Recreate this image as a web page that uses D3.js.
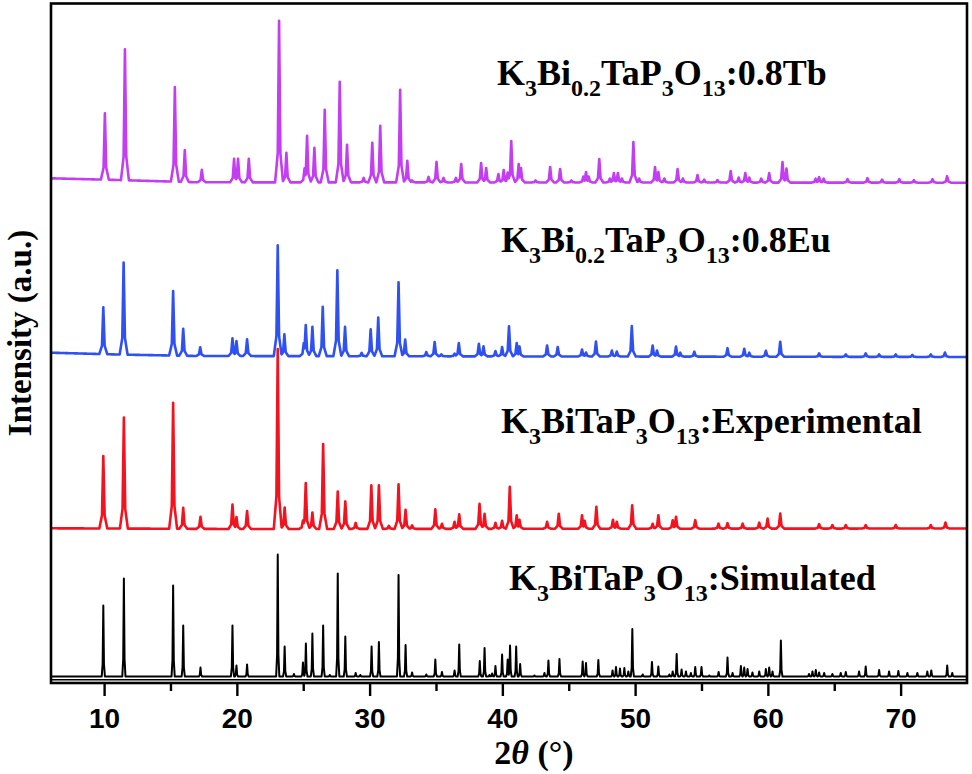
<!DOCTYPE html>
<html><head><meta charset="utf-8">
<script src="https://cdn.jsdelivr.net/npm/d3@7"></script>
<style>
html,body{margin:0;padding:0;background:#fff;}
svg{display:block;}
</style></head>
<body>
<script>
// ---------- DATA (2θ in degrees, intensity in a.u. on a shared stacked scale) ----------
const xTicksMajor = [10, 20, 30, 40, 50, 60, 70];
const xTicksMinor = [15, 25, 35, 45, 55, 65];

const seriesNames = [
  "K_{3}Bi_{0.2}TaP_{3}O_{13}:0.8Tb",
  "K_{3}Bi_{0.2}TaP_{3}O_{13}:0.8Eu",
  "K_{3}BiTaP_{3}O_{13}:Experimental",
  "K_{3}BiTaP_{3}O_{13}:Simulated"
];
const seriesColors = ["#c33df2", "#2f50f2", "#f5121f", "#000000"];

// baselines (2θ, intensity offset)
const baseTb  = [[6, 504.7], [11, 503], [17, 500.7], [75, 500.3]];
const baseEu  = [[6, 330.3], [11, 328.5], [17, 327], [75, 326]];
const baseExp = [[6, 154.7], [20, 154], [75, 154.5]];
const baseSim = [[6, 6.5], [75, 6.5]];

// peaks (2θ, height above baseline)
const peaksTb = [
  [10.06,66.5],[11.57,131],[15.33,94.5],[16.08,32],[17.36,12.5],[19.79,23.5],[20.09,23.5],[20.9,23.5],
  [23.18,161.5],[23.73,29.5],[25.1,14],[25.29,46.5],[25.84,34.5],[26.62,72.5],[27.75,100.5],[28.3,37.5],
  [29.55,4.5],[30.2,39.5],[30.8,56.5],[32.3,92.5],[32.84,21.5],[33.2,2],[34.44,5.5],[35.04,20.5],
  [35.57,4.5],[36.5,4.5],[36.9,18.5],[38.4,19.5],[38.78,14.5],[39.7,8.5],[40.1,12.5],[40.4,10],
  [40.67,41.5],[41.23,18.5],[41.4,14.5],[42.5,2],[43.6,15.5],[44.35,13.5],[45.2,2],[46.1,6],[46.3,10.5],
  [46.5,6],[47.3,23.5],[48.1,4],[48.4,9.5],[48.7,9.5],[49.0,4],[49.87,40.5],[50.3,4],[51.5,15.5],
  [51.75,10.5],[52.2,4],[53.2,13.5],[53.6,4],[54.7,7.5],[55.2,3],[56.2,2.5],[57.2,11.5],[57.8,5],
  [58.3,9.5],[58.6,5],[59.5,4],[60.1,9.5],[61.1,20.5],[61.4,14],[63.6,4],[63.86,5.5],[64.2,4],
  [66.0,3.5],[67.5,4.5],[68.6,3],[69.9,3.5],[71.0,2.5],[72.4,3.5],[73.5,6.5]
];
const peaksEu = [
  [9.94,46.7],[11.47,92],[15.2,64.5],[15.96,27],[17.24,8.7],[19.67,17.7],[19.97,15],[20.77,16.7],
  [23.08,110.7],[23.58,21.7],[25.04,13],[25.19,31],[25.69,29.3],[26.47,49.3],[27.57,86],[28.15,29.3],
  [29.4,3.3],[30.08,27],[30.65,38.7],[32.18,74],[32.68,16.7],[34.27,4.3],[34.9,14.3],[35.4,2],
  [36.4,2.7],[36.72,13.3],[38.23,12.5],[38.58,10],[39.48,5.3],[39.98,9.3],[40.5,30],[41.08,13.3],
  [41.29,10],[43.37,11],[44.17,9.5],[46.0,7],[46.3,4],[47.05,15],[48.25,6],[48.62,5],[49.75,30.5],
  [51.32,11],[51.65,6],[53.08,10],[53.4,4],[54.46,5],[56.96,8.5],[58.22,8],[58.6,4],[59.85,6],
  [60.93,15],[63.86,3.5],[65.87,2.5],[67.37,3.5],[68.38,2.5],[69.63,2.5],[70.88,2],[72.27,2.5],[73.34,4.5]
];
const peaksExp = [
  [9.94,72.5],[11.49,111],[15.2,126],[15.96,21],[17.26,12],[19.67,24.5],[19.97,12],[20.77,18],
  [23.08,180],[23.6,21.5],[24.98,8.5],[25.19,46],[25.69,16.5],[26.5,85],[27.6,37.5],[28.17,27.5],
  [28.95,6],[30.13,43.5],[30.7,43.5],[31.45,3],[32.18,44.5],[32.71,19],[33.2,3.5],[34.95,19.5],
  [35.45,5],[36.4,7],[36.75,14.5],[38.28,25],[38.66,15],[39.48,6],[39.98,8],[40.56,42],[41.08,13.5],
  [41.29,9],[43.37,7],[44.25,15],[46.0,13.5],[46.2,8],[47.08,22],[48.33,9],[48.62,7],[49.78,23.5],
  [51.32,5],[51.75,13.5],[52.83,8.5],[53.08,12],[54.53,8.5],[56.28,5],[56.96,5.5],[58.1,5],
  [59.35,6],[59.98,10],[60.93,15],[63.86,4.5],[64.86,3.5],[65.87,3.5],[67.37,3.5],[69.63,3.5],
  [72.27,3.5],[73.38,6]
];
const peaksSim = [
  [9.94,71],[11.49,98],[15.2,91],[15.96,51],[17.26,9],[19.67,51],[19.97,11],[20.77,12],[23.08,122],
  [23.6,30],[24.3,2.5],[24.98,14],[25.2,33],[25.69,43],[26.5,51],[27.0,1.5],[27.6,103],[28.17,40],
  [28.95,3.5],[29.3,1.5],[30.15,30],[30.7,34.5],[32.18,101.5],[32.71,31.5],[33.2,4],[34.27,2],
  [34.95,17],[35.45,4.5],[36.4,6],[36.75,32],[38.3,15.5],[38.66,28.5],[39.03,1.5],[39.23,3],
  [39.48,10.5],[39.98,22],[40.4,17],[40.58,31],[41.04,30],[41.34,12.5],[42.42,1],[43.17,3.5],
  [43.47,16],[44.3,17.5],[46.05,15],[46.3,13.5],[47.23,16.5],[48.3,6],[48.56,9.5],[48.86,8],
  [49.19,8.5],[49.49,5],[49.79,47.5],[50.57,2],[51.27,14.5],[51.75,10],[52.58,2],[52.83,5],
  [53.13,22.5],[53.5,7],[53.83,5],[54.2,3.5],[54.53,9.5],[55.0,9.5],[55.59,1],[56.29,4.5],
  [56.96,19],[57.34,3.5],[57.97,10.5],[58.22,9],[58.47,7.5],[58.84,4],[59.35,5],[59.85,7.5],
  [60.1,9],[60.35,5],[60.98,36],[63.1,2.5],[63.36,5],[63.61,6.5],[63.86,4],[64.24,3.5],[64.86,2.5],
  [65.49,3.5],[65.87,4.5],[66.87,5],[67.37,10],[68.38,6.5],[69.13,5],[69.83,5.5],[70.51,3.5],
  [71.26,3.5],[72.01,5],[72.31,6],[73.51,11],[73.89,3.5]
];
const zeroLine = 3.3;

// ---------- LAYOUT ----------
const W = 972, H = 774;
const L = 51, R = 967, T = 3.5, B = 683;
const x = d3.scaleLinear().domain([6, 75]).range([L, R]);
const y = d3.scaleLinear().domain([0, 679.5]).range([B, T]);

const svg = d3.select("body").append("svg").attr("width", W).attr("height", H);

svg.append("defs").append("clipPath").attr("id", "c")
  .append("rect").attr("x", L).attr("y", T).attr("width", R - L).attr("height", B - T);

function buildProfile(peaks, base, hw, knee) {
  const baseAt = d3.scaleLinear().domain(base.map(d => d[0])).range(base.map(d => d[1]));
  const xs = new Set();
  for (let v = 6; v <= 75.0001; v += 0.01) xs.add(+v.toFixed(3));
  peaks.forEach(p => { xs.add(p[0]); });
  const arr = Array.from(xs).sort((a, b) => a - b);
  return arr.map(v => {
    let m = 0;
    for (const [p, h] of peaks) {
      const d = Math.abs(v - p);
      if (d >= hw) continue;
      let c;
      if (d <= knee) c = h - (h - 0.18 * h) * (d / knee);
      else c = 0.18 * h * (1 - (d - knee) / (hw - knee));
      if (c > m) m = c;
    }
    return [v, baseAt(v) + m];
  });
}

const line = d3.line().x(d => x(d[0])).y(d => y(d[1]));
const g = svg.append("g").attr("clip-path", "url(#c)");

const allSeries = [
  {peaks: peaksSim, base: baseSim, hw: 0.12, knee: 0.05, w: 2},
  {peaks: peaksExp, base: baseExp, hw: 0.3, knee: 0.1, w: 2.6},
  {peaks: peaksEu,  base: baseEu,  hw: 0.3, knee: 0.1, w: 2.6},
  {peaks: peaksTb,  base: baseTb,  hw: 0.3, knee: 0.1, w: 2.6}
];
const colorIdx = [3, 2, 1, 0];

// zero line under the simulated pattern
g.append("line").attr("x1", L).attr("x2", R).attr("y1", y(zeroLine)).attr("y2", y(zeroLine))
  .attr("stroke", "#000").attr("stroke-width", 1.6);

allSeries.forEach((s, i) => {
  g.append("path").datum(buildProfile(s.peaks, s.base, s.hw, s.knee))
    .attr("d", line).attr("fill", "none")
    .attr("stroke", seriesColors[colorIdx[i]]).attr("stroke-width", s.w)
    .attr("stroke-linejoin", "round");
});

// frame
svg.append("rect").attr("x", L).attr("y", T).attr("width", R - L).attr("height", B - T)
  .attr("fill", "none").attr("stroke", "#000").attr("stroke-width", 2.6);

// x axis ticks
const axisMajor = d3.axisBottom(x).tickValues(xTicksMajor).tickSize(13).tickPadding(12).tickFormat(d3.format("d"));
const ax = svg.append("g").attr("transform", `translate(0,${B})`).call(axisMajor);
ax.select(".domain").remove();
ax.selectAll(".tick line").attr("stroke", "#000").attr("stroke-width", 2.4);
ax.selectAll(".tick text").attr("font-family", "Liberation Sans, Arial, sans-serif")
  .attr("font-weight", "bold").attr("font-size", 28).attr("fill", "#000");
const axMinor = svg.append("g").attr("transform", `translate(0,${B})`)
  .call(d3.axisBottom(x).tickValues(xTicksMinor).tickSize(8).tickFormat(""));
axMinor.select(".domain").remove();
axMinor.selectAll(".tick line").attr("stroke", "#000").attr("stroke-width", 2.4);

// axis titles
const xt = svg.append("text").attr("x", 534).attr("y", 764).attr("text-anchor", "middle")
  .attr("font-family", "Liberation Serif, Times New Roman, serif").attr("font-weight", "bold").attr("font-size", 34);
xt.append("tspan").text("2");
xt.append("tspan").attr("font-style", "italic").text("θ");
xt.append("tspan").text(" (°)");

svg.append("text").attr("transform", "translate(31,333) rotate(-90)").attr("text-anchor", "middle")
  .attr("font-family", "Liberation Serif, Times New Roman, serif").attr("font-weight", "bold").attr("font-size", 33)
  .text("Intensity (a.u.)");

// series labels
const labelPos = [[497, 85], [501, 252], [501, 433], [509, 590]];
seriesNames.forEach((name, i) => {
  const t = svg.append("text").attr("x", labelPos[i][0]).attr("y", labelPos[i][1])
    .attr("font-family", "Liberation Serif, Times New Roman, serif").attr("font-weight", "bold")
    .attr("font-size", 36).attr("fill", "#000");
  const parts = name.split(/(_\{[^}]*\})/).filter(p => p.length);
  let sub = false;
  parts.forEach(p => {
    if (p.startsWith("_{")) {
      t.append("tspan").attr("font-size", 24).attr("dy", sub ? 0 : 11).text(p.slice(2, -1));
      sub = true;
    } else {
      t.append("tspan").attr("dy", sub ? -11 : 0).text(p);
      sub = false;
    }
  });
});
</script>
</body></html>
